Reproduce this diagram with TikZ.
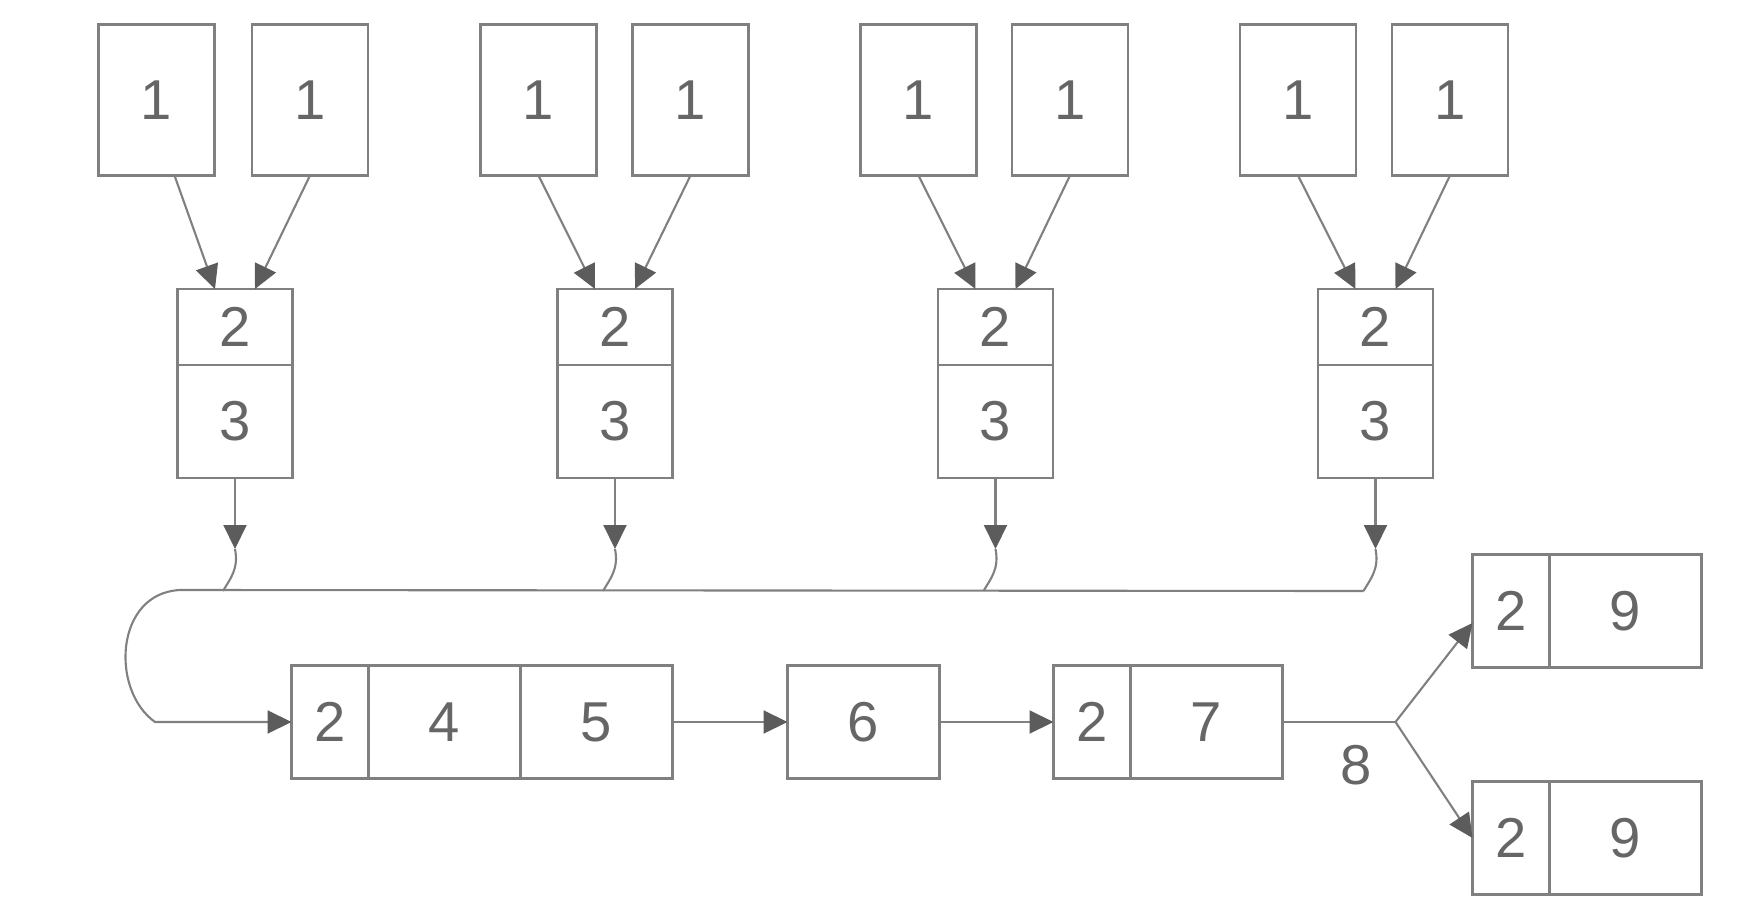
\documentclass[tikz,border=0pt]{standalone}
\usepackage{fontspec}
\setmainfont{Liberation Sans}
\usepackage{tikz}
\usetikzlibrary{positioning}
\usetikzlibrary{arrows.meta}
\definecolor{boxgray}{HTML}{808080}
\definecolor{numgray}{HTML}{666666}
\definecolor{tipgray}{HTML}{5C5C5C}

\begin{document}
\begin{tikzpicture}[-,auto,node distance=0pt,
	cell/.style={draw=boxgray, line width=0.6pt, inner sep=0pt, outer sep=0pt, text=numgray, font=\fontsize{16}{18}\selectfont, minimum height=1.13cm},
	top node/.style={cell, minimum width=1.16cm, minimum height=1.51cm},
	head node/.style={cell, minimum width=1.15cm, minimum height=0.76cm},
	body node/.style={cell, minimum width=1.15cm},
	narrow node/.style={cell, minimum width=0.77cm},
	wide node/.style={cell, minimum width=1.52cm},
	line/.style={draw=boxgray, line width=0.6pt},
	arrow/.style={line, -{Triangle[length=2.4mm, width=2.3mm, color=tipgray]}}]
	
	\useasboundingbox (0,0) rectangle (17.51,-9.15);
	
	\node[top node] (top1a) at (1.565,-1.0) {1};
	\node[top node] (top1b) at (3.10,-1.0) {1};
	\node[top node] (top2a) at (5.385,-1.0) {1};
	\node[top node] (top2b) at (6.905,-1.0) {1};
	\node[top node] (top3a) at (9.185,-1.0) {1};
	\node[top node] (top3b) at (10.70,-1.0) {1};
	\node[top node] (top4a) at (12.98,-1.0) {1};
	\node[top node] (top4b) at (14.50,-1.0) {1};
	
	\node[head node] (two1) at (2.35,-3.27) {2};
	\node[body node] (three1) [below=of two1] {3};
	\node[head node] (two2) at (6.15,-3.27) {2};
	\node[body node] (three2) [below=of two2] {3};
	\node[head node] (two3) at (9.955,-3.27) {2};
	\node[body node] (three3) [below=of two3] {3};
	\node[head node] (two4) at (13.755,-3.27) {2};
	\node[body node] (three4) [below=of two4] {3};
	
	\node[narrow node] (c2) at (3.30,-7.22) {2};
	\node[wide node] (c4) [right=of c2] {4};
	\node[wide node] (c5) [right=of c4] {5};
	\node[wide node] (c6) [right=1.15cm of c5] {6};
	\node[narrow node] (d2) [right=1.14cm of c6] {2};
	\node[wide node] (d7) [right=of d2] {7};
	\node[narrow node] (e2) [right=1.90cm of d7, yshift=1.11cm] {2};
	\node[wide node] (e9) [right=of e2] {9};
	\node[narrow node] (f2) [below=1.14cm of e2] {2};
	\node[wide node] (f9) [right=of f2] {9};
	
	% merging points
	\coordinate (tip1) at ([yshift=-0.71cm]three1.south);
	\coordinate (tip2) at ([yshift=-0.71cm]three2.south);
	\coordinate (tip3) at ([yshift=-0.71cm]three3.south);
	\coordinate (tip4) at ([yshift=-0.71cm]three4.south);
	\coordinate (bus1) at ([xshift=-0.12cm, yshift=-0.42cm]tip1);
	\coordinate (bus2) at ([xshift=-0.12cm, yshift=-0.42cm]tip2);
	\coordinate (bus3) at ([xshift=-0.12cm, yshift=-0.42cm]tip3);
	\coordinate (bus4) at ([xshift=-0.12cm, yshift=-0.42cm]tip4);
	\coordinate (busL) at (1.80,-5.90);
	\coordinate (loopE) at (1.55,-7.22);
	\coordinate (br) at ([xshift=1.13cm]d7.east);
	
	\draw[arrow] ([xshift=0.18cm]top1a.south) -- ([xshift=-0.2cm]two1.north);
	\draw[arrow] (top1b.south) -- ([xshift=0.2cm]two1.north);
	\draw[arrow] (top2a.south) -- ([xshift=-0.2cm]two2.north);
	\draw[arrow] (top2b.south) -- ([xshift=0.2cm]two2.north);
	\draw[arrow] (top3a.south) -- ([xshift=-0.2cm]two3.north);
	\draw[arrow] (top3b.south) -- ([xshift=0.2cm]two3.north);
	\draw[arrow] (top4a.south) -- ([xshift=-0.2cm]two4.north);
	\draw[arrow] (top4b.south) -- ([xshift=0.2cm]two4.north);
	
	\draw[arrow] (three1.south) -- (tip1);
	\draw[arrow] (three2.south) -- (tip2);
	\draw[arrow] (three3.south) -- (tip3);
	\draw[arrow] (three4.south) -- (tip4);
	\draw[line] (tip1) .. controls +(0.04,-0.2) and +(0.07,0.12) .. (bus1);
	\draw[line] (tip2) .. controls +(0.04,-0.2) and +(0.07,0.12) .. (bus2);
	\draw[line] (tip3) .. controls +(0.04,-0.2) and +(0.07,0.12) .. (bus3);
	\draw[line] (tip4) .. controls +(0.04,-0.2) and +(0.07,0.12) .. (bus4);
	
	\draw[arrow] (bus4) -- (busL) .. controls (1.15,-5.93) and (1.10,-6.90) .. (loopE) -- (c2.west);
	
	\draw[arrow] (c5) -- (c6);
	\draw[arrow] (c6) -- (d2);
	\draw[line] (d7) -- node[below=0.1cm, pos=0.65, text=numgray, font=\fontsize{16}{18}\selectfont] {8} (br);
	\draw[arrow] (br) -- ([yshift=-0.12cm]e2.west);
	\draw[arrow] (br) -- (f2.west);
	
\end{tikzpicture}
\end{document}
